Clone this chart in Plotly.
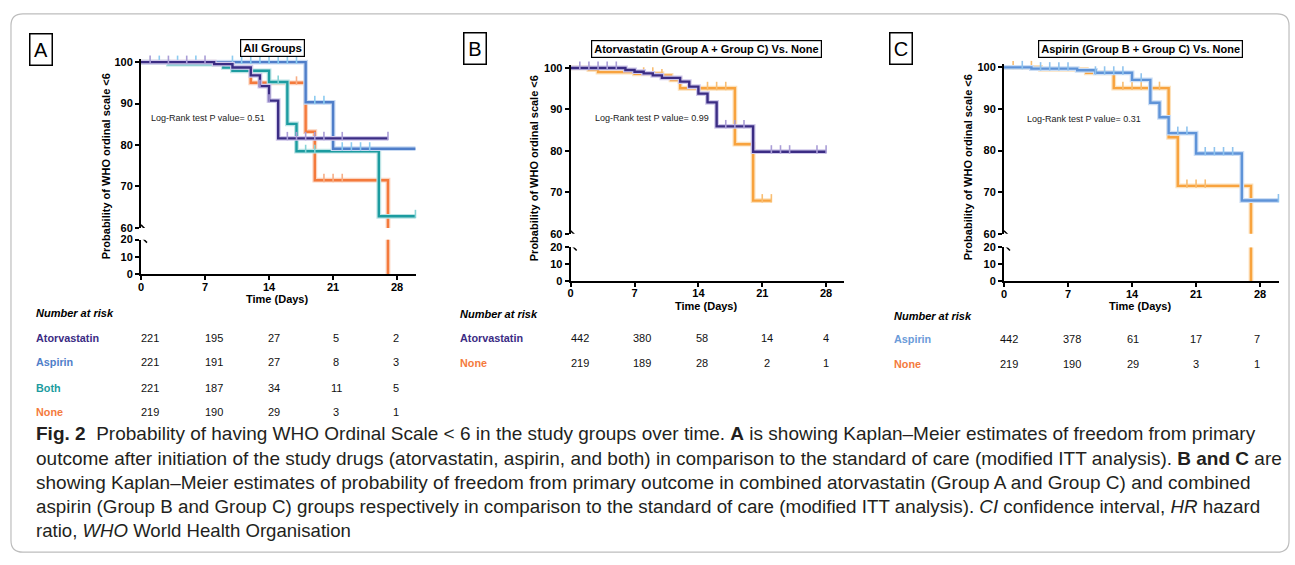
import plotly.graph_objects as go

W, H = 1295, 565

# ---------------- data ----------------
risk_times = [0, 7, 14, 21, 28]

# Panel A (All Groups)
a_ator_t = [0, 8, 10, 12, 13, 14, 15, 27]
a_ator_s = [100, 99.5, 98.7, 96.8, 94.2, 90.7, 81.6, 81.6]
a_asp_t = [0, 18, 21, 30]
a_asp_s = [100, 90.3, 79.1, 79.1]
a_both_t = [0, 3, 9, 10, 14, 16, 17, 26, 30]
a_both_s = [100, 99.5, 98.7, 97.9, 95.2, 85.1, 78.5, 62.8, 62.8]
a_none_t = [0, 8, 10, 12, 18, 19, 27]
a_none_s = [100, 99.5, 98.8, 95.0, 83.2, 71.5, 0]
a_ator_cens = [1, 3, 5, 7, 13, 14, 16, 17, 18, 19, 20, 22, 27]
a_asp_cens = [2, 4, 6, 10, 11, 12, 13, 14, 15, 16, 17, 19, 20, 22, 23, 24, 25]
a_both_cens = [15, 18, 19, 30]
a_none_cens = [17, 20, 21, 22]
a_risk_ator = [221, 195, 27, 5, 2]
a_risk_asp = [221, 191, 27, 8, 3]
a_risk_both = [221, 187, 34, 11, 5]
a_risk_none = [219, 190, 29, 3, 1]

# Panel B (Atorvastatin vs None)
b_ator_t = [0, 6, 7, 8, 9, 10, 12, 13, 14, 15, 16, 20, 28]
b_ator_s = [100, 99.5, 99.1, 98.7, 98.2, 97.6, 96.7, 95.5, 93.8, 91.7, 85.9, 79.8, 79.8]
b_none_t = [0, 2, 3, 7, 10, 11, 12, 18, 20, 22]
b_none_s = [100, 99.6, 99.0, 98.6, 98.2, 97.1, 95.1, 81.6, 68.0, 68.0]
b_ator_cens = [1, 2, 3, 4, 5, 17, 18, 19, 22, 23, 24, 27, 28]
b_none_cens = [8, 9, 10, 15, 16, 17, 21, 22]
b_risk_ator = [442, 380, 58, 14, 4]
b_risk_none = [219, 189, 28, 2, 1]

# Panel C (Aspirin vs None)
c_asp_t = [0, 3, 8, 10, 14, 16, 17, 18, 21, 26, 30]
c_asp_s = [100, 99.7, 99.3, 98.7, 97.0, 91.5, 88.0, 84.2, 79.3, 68.0, 68.0]
c_none_t = [0, 4, 9, 12, 18, 19, 27]
c_none_s = [100, 99.5, 98.7, 95.0, 83.2, 71.5, 0]
c_asp_cens = [2, 4, 5, 6, 7, 10, 11, 12, 13, 15, 19, 20, 22, 23, 24, 25, 30]
c_none_cens = [1, 3, 13, 14, 15, 17, 20, 21, 22]
c_risk_asp = [442, 378, 61, 17, 7]
c_risk_none = [219, 190, 29, 3, 1]

p_values = ["0.51", "0.99", "0.31"]
panel_titles = ["All Groups", "Atorvastatin (Group A + Group C) Vs. None",
                "Aspirin (Group B + Group C) Vs. None"]
panel_letters = ["A", "B", "C"]

# ---------------- styles ----------------
FONT = "Liberation Sans, Arial, sans-serif"
C_ATOR, H_ATOR, T_ATOR = "#3B2C84", "#CFC8EA", "#A99DD6"
C_ASP, H_ASP, T_ASP = "#4F7EC9", "#C8DAF3", "#8CCBF0"
C_BOTH, H_BOTH, T_BOTH = "#1C9CA0", "#BCE4E5", "#86D3D6"
C_NONE, H_NONE, T_NONE = "#F47A3C", "#FBD3BE", "#F7AE86"
C_ASP2, H_ASP2, T_ASP2 = "#5E93D8", "#CCDEF5", "#8FC3EE"
C_NONE2, H_NONE2, T_NONE2 = "#F8A33E", "#FCE1BC", "#F9BE72"
LBL_ASP2 = "#6A9BD9"


def fx(px):
    return px / W


def fy(py):
    return 1 - py / H


def step_at(ts, ss, t):
    v = ss[0]
    for ti, si in zip(ts, ss):
        if ti <= t:
            v = si
    return v


fig = go.Figure()


def add_series(xa, ya_top, ya_bot, ts, ss, col, halo, tick, cens):
    for ya in (ya_top, ya_bot):
        fig.add_trace(go.Scatter(x=ts, y=ss, mode="lines", xaxis=xa, yaxis=ya,
                                 line=dict(shape="hv", color=halo, width=4.8),
                                 hoverinfo="skip", showlegend=False))
        fig.add_trace(go.Scatter(x=ts, y=ss, mode="lines", xaxis=xa, yaxis=ya,
                                 line=dict(shape="hv", color=col, width=2.4),
                                 hoverinfo="skip", showlegend=False))
    cy = [step_at(ts, ss, t) + 0.55 for t in cens]
    fig.add_trace(go.Scatter(x=cens, y=cy, mode="markers", xaxis=xa, yaxis=ya_top,
                             marker=dict(symbol="line-ns-open", size=6, color=tick,
                                         line=dict(color=tick, width=1.6)),
                             cliponaxis=False, hoverinfo="skip", showlegend=False))


# Panel A: order orange, teal, blue, purple
add_series("x", "y", "y2", a_none_t, a_none_s, C_NONE, H_NONE, T_NONE, a_none_cens)
add_series("x", "y", "y2", a_both_t, a_both_s, C_BOTH, H_BOTH, T_BOTH, a_both_cens)
add_series("x", "y", "y2", a_asp_t, a_asp_s, C_ASP, H_ASP, T_ASP, a_asp_cens)
add_series("x", "y", "y2", a_ator_t, a_ator_s, C_ATOR, H_ATOR, T_ATOR, a_ator_cens)
# Panel B
add_series("x2", "y3", "y4", b_none_t, b_none_s, C_NONE2, H_NONE2, T_NONE2, b_none_cens)
add_series("x2", "y3", "y4", b_ator_t, b_ator_s, C_ATOR, H_ATOR, T_ATOR, b_ator_cens)
# Panel C
add_series("x3", "y5", "y6", c_none_t, c_none_s, C_NONE2, H_NONE2, T_NONE2, c_none_cens)
add_series("x3", "y5", "y6", c_asp_t, c_asp_s, C_ASP2, H_ASP2, T_ASP2, c_asp_cens)

tickfont = dict(family=FONT, size=11, color="black", weight="bold")
axis_common = dict(showline=True, linewidth=2, linecolor="black", ticks="outside",
                   ticklen=4, tickwidth=2, tickcolor="black", showgrid=False,
                   zeroline=False, tickfont=tickfont, fixedrange=True)

# pixel geometry of each panel: x0, x1 (px for 0 and end), top-axis px (100, 60), bottom px (20, 0)
panels = [
    dict(x=(138.3, 414.3), xr=30.1, top=(57.3, 226.7), bot=(238.7, 274.3)),
    dict(x=(569.0, 843.3), xr=30.0, top=(63.3, 232.7), bot=(246.7, 280.7)),
    dict(x=(1003.3, 1279.3), xr=30.1, top=(62.7, 232.7), bot=(246.7, 281.3)),
]

layout_axes = {}
for i, p in enumerate(panels):
    xi = "" if i == 0 else str(i + 1)
    yt = str(2 * i + 1) if i > 0 else ""
    yb = str(2 * i + 2)
    ppu = (p["top"][1] - p["top"][0]) / 40.0
    top_px = p["top"][0] - 0.7 * ppu
    layout_axes["xaxis" + xi] = dict(axis_common, domain=[fx(p["x"][0]), fx(p["x"][1])],
                                     range=[0, p["xr"]], anchor="y" + yb,
                                     tickvals=risk_times, ticklabelstandoff=-3)
    layout_axes["yaxis" + yt] = dict(axis_common, domain=[fy(p["top"][1]), fy(top_px)],
                                     range=[60, 100.7], anchor="x" + xi,
                                     tickvals=[60, 70, 80, 90, 100])
    layout_axes["yaxis" + yb] = dict(axis_common, domain=[fy(p["bot"][1]), fy(p["bot"][0])],
                                     range=[0, 20], anchor="x" + xi,
                                     tickvals=[0, 10, 20])

shapes = []
for i, p in enumerate(panels):
    xi = "x" if i == 0 else "x" + str(i + 1)
    yt = "y" if i == 0 else "y" + str(2 * i + 1)
    yb = "y" + str(2 * i + 2)
    shapes.append(dict(type="line", xref=xi, yref=yt, xsizemode="pixel", xanchor=0,
                       x0=0, x1=6, ysizemode="pixel", yanchor=60, y0=3, y1=-3,
                       line=dict(color="black", width=1.5)))
    shapes.append(dict(type="line", xref=xi, yref=yb, xsizemode="pixel", xanchor=0,
                       x0=0, x1=6, ysizemode="pixel", yanchor=20, y0=3, y1=-3,
                       line=dict(color="black", width=1.5)))

# outer rounded border
x0b, y0b, x1b, y1b, r = fx(8), fy(8), fx(1289), fy(558), 12
rx, ry = r / W, r / H
path = (f"M {x0b + rx},{y0b} L {x1b - rx},{y0b} Q {x1b},{y0b} {x1b},{y0b - ry} "
        f"L {x1b},{y1b + ry} Q {x1b},{y1b} {x1b - rx},{y1b} L {x0b + rx},{y1b} "
        f"Q {x0b},{y1b} {x0b},{y1b + ry} L {x0b},{y0b - ry} Q {x0b},{y0b} {x0b + rx},{y0b} Z")
shapes.append(dict(type="path", xref="paper", yref="paper", path=path,
                   line=dict(color="#BDBDBD", width=1.2)))

ann = []


def text(px, py, s, size=10, color="black", anchor="center", weight="normal",
         style="normal", angle=0, **kw):
    d = dict(x=fx(px), y=fy(py), xref="paper", yref="paper", text=s, showarrow=False,
             xanchor=anchor, yanchor="middle", textangle=angle, borderpad=0,
             borderwidth=0,
             font=dict(family=FONT, size=size, color=color, weight=weight, style=style))
    d.update(kw)
    ann.append(d)


# panel letters and title boxes
letter_pos = [(38.5, 44), (473, 43.5), (900.5, 43.5)]
title_pos = [(270.5, 42.5), (705.5, 44), (1140.5, 44)]
title_size = [11.5, 11, 11]
for i in range(3):
    text(*letter_pos[i], panel_letters[i], size=20, width=19, height=28,
         bordercolor="black", borderwidth=1.5, borderpad=1)
    text(*title_pos[i], panel_titles[i], size=title_size[i], weight="bold",
         bordercolor="black", borderwidth=1.2, borderpad=2, bgcolor="white")

# log-rank
lr_pos = [(148, 114), (593, 114), (1026, 115)]
for i in range(3):
    text(*lr_pos[i], "Log-Rank test P value= " + p_values[i], size=9, color="#222222",
         anchor="left")

# axis titles
ytitle_pos = [(103, 164), (533, 166), (968, 165)]
xtitle_pos = [(275, 299), (705, 306), (1140, 306)]
for i in range(3):
    text(*ytitle_pos[i], "Probability of WHO ordinal scale &lt;6", size=11,
         weight="bold", angle=-90)
    text(*xtitle_pos[i], "Time (Days)", size=11, weight="bold")

# number at risk tables
tables = [
    dict(lx=33, hy=314, cols=[147.7, 211, 272, 334, 394], rows=[339, 364, 390, 415],
         names=["Atorvastatin", "Aspirin", "Both", "None"],
         colors=[C_ATOR, C_ASP, C_BOTH, C_NONE],
         vals=[a_risk_ator, a_risk_asp, a_risk_both, a_risk_none]),
    dict(lx=458, hy=315, cols=[578, 640, 701, 766, 825], rows=[339, 365],
         names=["Atorvastatin", "None"], colors=[C_ATOR, C_NONE],
         vals=[b_risk_ator, b_risk_none]),
    dict(lx=893, hy=317, cols=[1008, 1071, 1133, 1196, 1257], rows=[340, 366],
         names=["Aspirin", "None"], colors=[LBL_ASP2, C_NONE],
         vals=[c_risk_asp, c_risk_none]),
]
for tb in tables:
    text(tb["lx"], tb["hy"], "Number at risk", size=11, weight="bold", style="italic",
         anchor="left")
    for name, col, vals, ry_ in zip(tb["names"], tb["colors"], tb["vals"], tb["rows"]):
        text(tb["lx"], ry_, name, size=10.8, weight="bold", color=col, anchor="left")
        for cx, v in zip(tb["cols"], vals):
            text(cx, ry_, str(v), size=11, color="#111111")

# caption
caption = [
    "<b>Fig. 2</b>  Probability of having WHO Ordinal Scale &lt; 6 in the study groups over time. "
    "<b>A</b> is showing Kaplan–Meier estimates of freedom from primary",
    "outcome after initiation of the study drugs (atorvastatin, aspirin, and both) in comparison "
    "to the standard of care (modified ITT analysis). <b>B and C</b> are",
    "showing Kaplan–Meier estimates of probability of freedom from primary outcome in combined "
    "atorvastatin (Group A and Group C) and combined",
    "aspirin (Group B and Group C) groups respectively in comparison to the standard of care "
    "(modified ITT analysis). <i>CI</i> confidence interval, <i>HR</i> hazard",
    "ratio, <i>WHO</i> World Health Organisation",
]
cap_y = [437, 462, 487, 511, 536]
cap_size = [19.0, 19.0, 19.0, 18.8, 18.6]
for s, yy, fs in zip(caption, cap_y, cap_size):
    text(33, yy, s, size=fs, color="#231F20", anchor="left")

fig.update_layout(width=W, height=H, autosize=False,
                  margin=dict(l=0, r=0, t=0, b=0),
                  paper_bgcolor="white", plot_bgcolor="rgba(0,0,0,0)",
                  showlegend=False, shapes=shapes, annotations=ann, **layout_axes)

fig.write_html(
    "out.html",
    config={"displayModeBar": False, "staticPlot": True},
    post_script=("document.documentElement.style.overflow='hidden';"
                 "document.body.style.margin='0';document.body.style.overflow='hidden';"
                 "var d=document.getElementById('{plot_id}');"
                 "d.style.position='fixed';d.style.top='0px';d.style.left='0px';"),
)
